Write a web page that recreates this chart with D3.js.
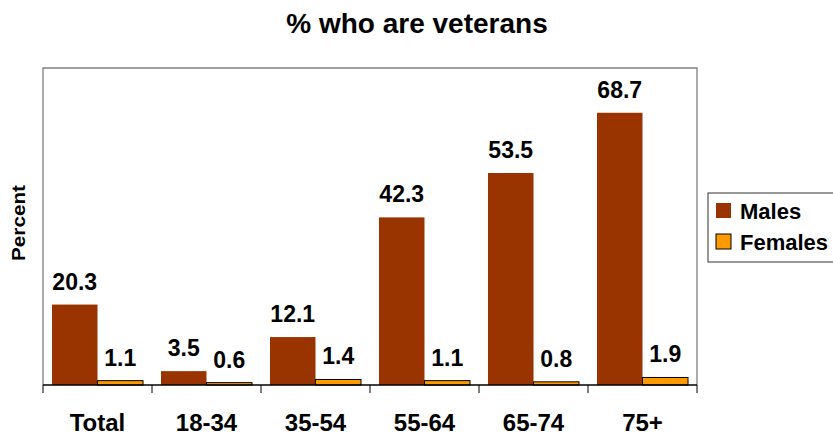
<!DOCTYPE html>
<html>
<head>
<meta charset="utf-8">
<script src="https://cdn.jsdelivr.net/npm/d3@7"></script>
<style>
  body { margin: 0; background: #fff; }
  svg { font-family: "Liberation Sans", Arial, sans-serif; font-weight: bold; }
</style>
</head>
<body>
<svg id="chart" width="833" height="437"></svg>
<script>
// Data
const categories = ["Total", "18-34", "35-54", "55-64", "65-74", "75+"];
const series = ["Males", "Females"];
const males = [20.3, 3.5, 12.1, 42.3, 53.5, 68.7];
const females = [1.1, 0.6, 1.4, 1.1, 0.8, 1.9];
const colors = ["#993300", "#FF9900"];

const rows = categories.map((c, i) => ({ cat: c, vals: [males[i], females[i]] }));

// Plot frame
const plot = { left: 43, top: 68, right: 697, bottom: 385 };
const svg = d3.select("#chart");

const xScale = d3.scaleBand()
  .domain(categories)
  .range([plot.left, plot.right])
  .paddingInner(0.165)
  .paddingOuter(0.0825);

const xInner = d3.scaleBand()
  .domain(series)
  .range([0, xScale.bandwidth()]);

const yScale = d3.scaleLinear()
  .domain([0, 80])
  .range([plot.bottom, plot.top]);

// Frame (top, left, right)
svg.append("path")
  .attr("d", `M${plot.left},${plot.bottom}V${plot.top}H${plot.right}V${plot.bottom}`)
  .attr("fill", "none")
  .attr("stroke", "#808080")
  .attr("stroke-width", 1.3);

// Title
svg.append("text")
  .attr("x", 417)
  .attr("y", 33)
  .attr("text-anchor", "middle")
  .attr("font-size", 28)
  .text("% who are veterans");

// Y label
svg.append("text")
  .attr("transform", "translate(25,223) rotate(-90)")
  .attr("text-anchor", "middle")
  .attr("font-size", 18)
  .attr("textLength", 76)
  .attr("lengthAdjust", "spacingAndGlyphs")
  .text("Percent");

// Bars
const groups = svg.selectAll(".grp")
  .data(rows)
  .enter()
  .append("g")
  .attr("class", "grp")
  .attr("transform", (d) => `translate(${xScale(d.cat)},0)`);

groups.selectAll("rect")
  .data((d) => d.vals.map((v, i) => ({ s: series[i], v: v, i: i })))
  .enter()
  .append("rect")
  .attr("x", (d) => xInner(d.s))
  .attr("y", (d) => yScale(d.v))
  .attr("width", xInner.bandwidth())
  .attr("height", (d) => yScale(0) - yScale(d.v))
  .attr("fill", (d) => colors[d.i])
  .attr("stroke", (d) => (d.i === 1 ? "#000" : "none"))
  .attr("stroke-width", 1);

groups.selectAll(".val")
  .data((d) => d.vals.map((v, i) => ({ s: series[i], v: v })))
  .enter()
  .append("text")
  .attr("class", "val")
  .attr("x", (d) => xInner(d.s) + xInner.bandwidth() / 2)
  .attr("y", (d) => yScale(d.v) - 15)
  .attr("text-anchor", "middle")
  .attr("font-size", 23)
  .text((d) => d.v.toFixed(1));

// X axis
const xAxis = svg.append("g")
  .attr("transform", `translate(0,${plot.bottom})`);
xAxis.append("line")
  .attr("x1", plot.left)
  .attr("x2", plot.right)
  .attr("stroke", "#000")
  .attr("stroke-width", 1.3);
xAxis.selectAll(".tick")
  .data(categories.concat([null]))
  .enter()
  .append("line")
  .attr("x1", (d, i) => plot.left + i * (plot.right - plot.left) / categories.length)
  .attr("x2", (d, i) => plot.left + i * (plot.right - plot.left) / categories.length)
  .attr("y1", 0)
  .attr("y2", 8)
  .attr("stroke", "#000");
xAxis.selectAll(".lbl")
  .data(categories)
  .enter()
  .append("text")
  .attr("x", (d) => xScale(d) + xScale.bandwidth() / 2)
  .attr("y", 46)
  .attr("text-anchor", "middle")
  .attr("font-size", 24)
  .text((d) => d);

// Legend
const legend = svg.append("g").attr("transform", "translate(708,193)");
legend.append("rect")
  .attr("width", 140)
  .attr("height", 69)
  .attr("fill", "#fff")
  .attr("stroke", "#333")
  .attr("stroke-width", 1);
series.forEach((s, i) => {
  legend.append("rect")
    .attr("x", 8)
    .attr("y", 10 + i * 31)
    .attr("width", 15)
    .attr("height", 15)
    .attr("fill", colors[i])
    .attr("stroke", i === 1 ? "#000" : "none");
  legend.append("text")
    .attr("x", 32)
    .attr("y", 26 + i * 31)
    .attr("font-size", 22)
    .text(s);
});
</script>
</body>
</html>
